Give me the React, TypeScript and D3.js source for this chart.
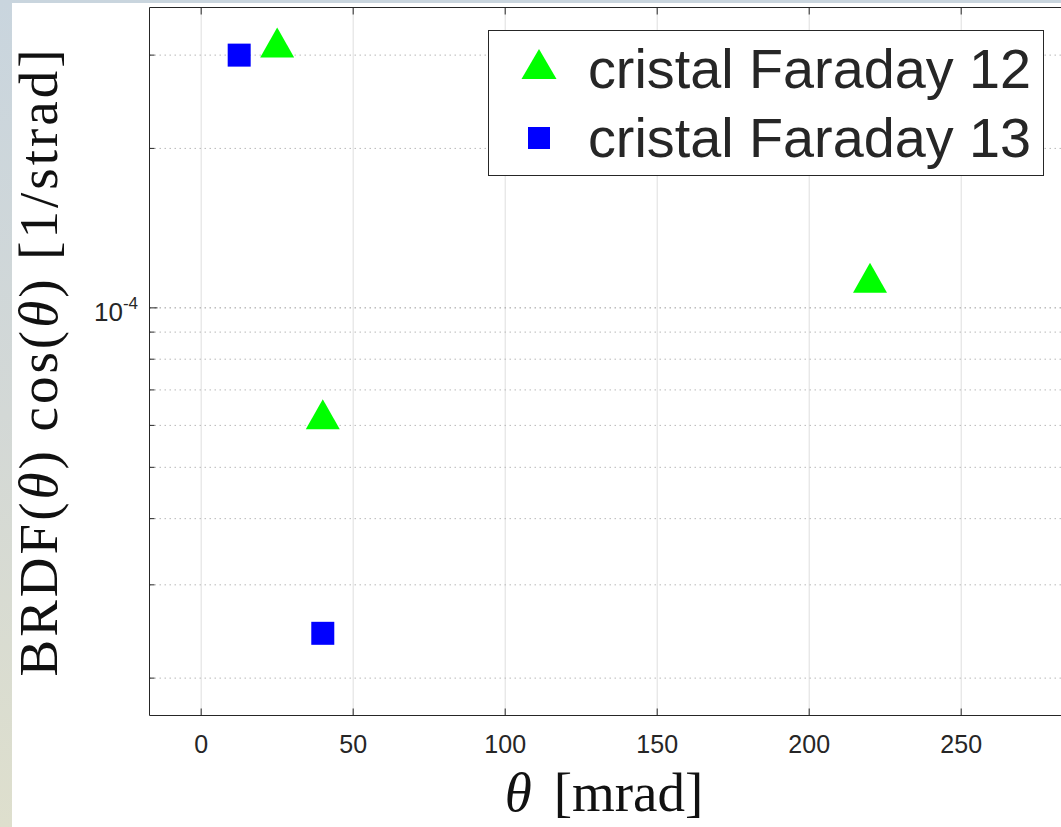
import React from "react";
import * as d3 from "d3";

// data
const fc12Theta = [25, 40, 220];
const fc12Brdf = [3.17e-4, 6.3e-5, 1.14e-4];
const fc13Theta = [12.5, 40];
const fc13Brdf = [3.0e-4, 2.43e-5];

const xTicks = [0, 50, 100, 150, 200, 250, 300];
const yGridVals = [2e-5, 3e-5, 4e-5, 5e-5, 6e-5, 7e-5, 8e-5, 9e-5, 1e-4, 2e-4, 3e-4];
const legendLabels = ["cristal Faraday 12", "cristal Faraday 13"];

const W = 1061;
const H = 827;
const left = 149.5;
const top = 7.5;
const bottom = 715.5;
const right = 1082.8;

const axisColor = "#262626";
const green = "#00ff00";
const blue = "#0000ff";

const tri = (cx: number, cy: number, w: number, h: number) =>
  `${cx - w / 2},${cy + h / 2} ${cx + w / 2},${cy + h / 2} ${cx},${cy - h / 2}`;

const App = () => {
  const x = d3.scaleLinear().domain([-17, 290]).range([left, right]);
  const y = d3.scaleLog().domain([1.7e-5, 3.69e-4]).range([bottom, top]);

  return (
    <svg
      width={W}
      height={H}
      style={{ position: "absolute", left: 0, top: 0 }}
      fontFamily="'Liberation Sans', Arial, sans-serif"
    >
      <defs>
        <linearGradient id="bg" x1="0" y1="0" x2="0" y2="1">
          <stop offset="0%" stopColor="#c9d5de" />
          <stop offset="50%" stopColor="#d3d8d6" />
          <stop offset="100%" stopColor="#dedfcd" />
        </linearGradient>
        <clipPath id="plot">
          <rect x={left} y={top} width={W - left} height={bottom - top} />
        </clipPath>
      </defs>
      <rect x={0} y={0} width={W} height={H} fill="url(#bg)" />
      <rect x={12} y={3} width={W - 12} height={H - 3} fill="#ffffff" />

      {/* grid */}
      <g clipPath="url(#plot)">
        {xTicks.map(t => (
          <line key={"gx" + t} x1={x(t)} x2={x(t)} y1={top} y2={bottom} stroke="#dedede" strokeWidth={1} />
        ))}
        {yGridVals.map(v => (
          <line
            key={"gy" + v}
            x1={left}
            x2={W}
            y1={y(v)}
            y2={y(v)}
            stroke={v === 1e-4 ? "#999999" : "#b8b8b8"}
            strokeWidth={1}
            strokeDasharray="1.5,3.5"
          />
        ))}
      </g>

      {/* axes box */}
      <line x1={left} x2={W} y1={top} y2={top} stroke={axisColor} />
      <line x1={left} x2={W} y1={bottom} y2={bottom} stroke={axisColor} />
      <line x1={left} x2={left} y1={top} y2={bottom} stroke={axisColor} />

      {/* ticks */}
      {xTicks.filter(t => x(t) < W).map(t => (
        <g key={"tx" + t}>
          <line x1={x(t)} x2={x(t)} y1={bottom} y2={bottom - 7} stroke={axisColor} />
          <line x1={x(t)} x2={x(t)} y1={top} y2={top + 7} stroke={axisColor} />
          <text x={x(t)} y={753} textAnchor="middle" fontSize={25} fill={axisColor}>
            {t}
          </text>
        </g>
      ))}
      {yGridVals.map(v => (
        <line
          key={"ty" + v}
          x1={left}
          x2={left + (v === 1e-4 ? 8 : 5)}
          y1={y(v)}
          y2={y(v)}
          stroke={axisColor}
        />
      ))}
      <text x={138} y={y(1e-4) + 13} textAnchor="end" fill={axisColor}>
        <tspan fontSize={26}>10</tspan>
        <tspan fontSize={17} dy={-12}>-4</tspan>
      </text>

      {/* data */}
      <g clipPath="url(#plot)">
        {fc12Theta.map((t, i) => (
          <polygon key={"a" + i} points={tri(x(t), y(fc12Brdf[i]), 34, 30)} fill={green} />
        ))}
        {fc13Theta.map((t, i) => (
          <rect
            key={"b" + i}
            x={x(t) - 11.5}
            y={y(fc13Brdf[i]) - 11.5}
            width={23}
            height={23}
            fill={blue}
          />
        ))}
      </g>

      {/* legend */}
      <rect x={488.5} y={30.5} width={555} height={145} fill="#ffffff" stroke={axisColor} />
      <polygon points={tri(539, 64, 35, 30)} fill={green} />
      <rect x={528} y={127} width={22} height={22} fill={blue} />
      {legendLabels.map((l, i) => (
        <text key={l} x={588} y={88 + i * 69} fontSize={55} fill={axisColor} textLength={443} lengthAdjust="spacingAndGlyphs">
          {l}
        </text>
      ))}

      {/* axis labels */}
      <text
        x={604}
        y={811}
        textAnchor="middle"
        fontSize={55}
        fontFamily="'Liberation Serif', 'DejaVu Serif', serif"
        fill="#111"
      >
        <tspan fontStyle="italic">θ</tspan>
        <tspan dx={22}>[mrad]</tspan>
      </text>
      <text
        transform="translate(57,363) rotate(-90)"
        textAnchor="middle"
        fontSize={55}
        fontFamily="'Liberation Serif', 'DejaVu Serif', serif"
        fill="#111"
        textLength={627}
        lengthAdjust="spacing"
      >
        BRDF(<tspan fontStyle="italic">θ</tspan>) cos(<tspan fontStyle="italic">θ</tspan>) [1/strad]
      </text>
    </svg>
  );
};

export default App;
